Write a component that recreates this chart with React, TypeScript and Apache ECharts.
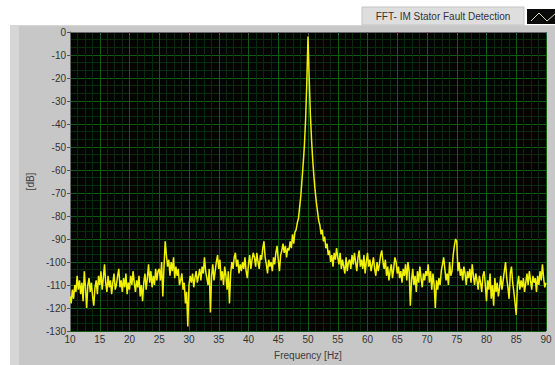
import React, { useEffect, useRef } from "react";
import * as echarts from "echarts";

const freqStart = 10;
const freqStep = 0.2;
// dB values, one per 0.2 Hz from 10 Hz to 90 Hz
const magnitudeDb: number[] = [
  -115, -118, -112, -116, -110,
  -113, -106, -112, -108, -114,
  -109, -117, -104, -111, -120,
  -110, -107, -113, -109, -115,
  -119, -111, -108, -114, -106,
  -110, -104, -112, -107, -101,
  -109, -113, -106, -111, -108,
  -114, -109, -105, -112, -110,
  -106, -103, -111, -108, -113,
  -107, -111, -105, -114, -109,
  -112, -106, -110, -104, -109,
  -113, -108, -111, -106, -115,
  -110, -117, -109, -105, -112,
  -107, -101, -109, -104, -111,
  -106, -110, -103, -108, -104,
  -103, -108, -100, -115, -102,
  -91, -97, -102, -99, -106,
  -100, -104, -98, -107, -102,
  -106, -103, -110, -108, -105,
  -112, -109, -118, -113, -128,
  -110, -106, -109, -105, -111,
  -107, -104, -109, -106, -103,
  -108, -102, -105, -98, -104,
  -107, -110, -103, -122, -106,
  -101, -108, -104, -100, -97,
  -103, -99, -108, -104, -110,
  -102, -106, -112, -104, -118,
  -105, -100, -103, -98, -96,
  -102, -99, -105, -101, -104,
  -100, -103, -98, -104, -107,
  -101, -97, -103, -99, -96,
  -98, -102, -96, -100, -103,
  -97, -99, -94, -91, -98,
  -101, -105, -99, -102, -100,
  -104, -98, -101, -96, -93,
  -99, -104, -97, -95, -92,
  -96, -93, -98, -94, -95,
  -91, -94, -88, -92, -87,
  -86, -83, -81, -76, -71,
  -64, -57, -49, -38, -22,
  -2, -20, -36, -47, -56,
  -63, -69, -74, -78, -82,
  -84, -88, -86, -91, -89,
  -94, -92, -97, -95, -100,
  -97, -102, -96, -99, -94,
  -98, -101, -96, -103, -99,
  -102, -105, -98, -104, -100,
  -99, -103, -97, -101, -96,
  -100, -104, -98, -95, -102,
  -99, -103, -97, -105, -100,
  -96, -102, -99, -104, -101,
  -98, -103, -106, -100, -104,
  -101, -97, -95, -100, -103,
  -99, -106, -102, -108, -104,
  -101, -107, -103, -98, -100,
  -105, -102, -107, -104, -109,
  -103, -106, -101, -108, -100,
  -104, -119, -108, -103, -110,
  -106, -113, -104, -109, -102,
  -107, -111, -105, -108, -104,
  -106, -101, -109, -104, -112,
  -105, -110, -120, -108, -112,
  -107, -110, -104, -101, -98,
  -103, -108, -105, -110, -100,
  -106, -104, -97, -93, -90,
  -91, -104, -100, -106, -103,
  -108, -102, -105, -110, -104,
  -107, -103, -109, -101, -106,
  -110, -105, -108, -112, -106,
  -109, -113, -106, -104, -110,
  -117, -108, -112, -105, -116,
  -110, -119, -107, -113, -109,
  -115, -111, -106, -112, -108,
  -104, -100, -107, -111, -116,
  -105, -102, -109, -113, -118,
  -123, -110, -106, -112, -108,
  -111, -107, -113, -109, -105,
  -110, -104, -108, -112, -106,
  -109, -107, -113, -106, -110,
  -104, -108, -101, -107, -111,
  -109,
];

const xMin = 10;
const xMax = 90;
const xInterval = 5;
const yMin = -130;
const yMax = 0;
const yInterval = 10;

const legendLabel = "FFT- IM Stator Fault Detection";
const xAxisTitle = "Frequency [Hz]";
const yAxisTitle = "[dB]";

export default function App() {
  const ref = useRef<HTMLDivElement>(null);

  useEffect(() => {
    document.body.style.margin = "0";
    if (!ref.current) return;
    const chart = echarts.init(ref.current, null, { renderer: "svg" });
    const points = magnitudeDb.map((v, i) => [
      +(freqStart + i * freqStep).toFixed(2),
      v,
    ]);
    const font = "Liberation Sans";
    chart.setOption({
      animation: false,
      backgroundColor: "transparent",
      grid: {
        left: 70,
        right: 9,
        top: 32,
        bottom: 30,
        show: true,
        backgroundColor: "#020402",
        borderWidth: 0,
      },
      xAxis: {
        type: "value",
        min: xMin,
        max: xMax,
        interval: xInterval,
        name: xAxisTitle,
        nameLocation: "middle",
        nameGap: 19,
        nameTextStyle: { color: "#3c3c3c", fontSize: 10, fontFamily: font },
        axisLine: { show: true, lineStyle: { color: "#6a6a6a", width: 1 } },
        axisTick: { show: true, length: 3, lineStyle: { color: "#555" } },
        axisLabel: {
          color: "#333",
          fontSize: 10,
          fontFamily: font,
          margin: 3,
        },
        splitLine: { show: true, lineStyle: { color: "#0f5a14", width: 1 } },
        minorTick: { show: false, splitNumber: 4 },
        minorSplitLine: {
          show: true,
          lineStyle: { color: "#072c09", width: 1 },
        },
      },
      yAxis: {
        type: "value",
        min: yMin,
        max: yMax,
        interval: yInterval,
        name: yAxisTitle,
        nameLocation: "middle",
        nameGap: 35,
        nameTextStyle: { color: "#3c3c3c", fontSize: 10, fontFamily: font },
        axisLine: { show: true, lineStyle: { color: "#6a6a6a", width: 1 } },
        axisTick: { show: true, length: 3, lineStyle: { color: "#555" } },
        axisLabel: {
          color: "#333",
          fontSize: 10,
          fontFamily: font,
          margin: 4,
        },
        splitLine: { show: true, lineStyle: { color: "#0f5a14", width: 1 } },
        minorTick: { show: false, splitNumber: 3 },
        minorSplitLine: {
          show: true,
          lineStyle: { color: "#072c09", width: 1 },
        },
      },
      series: [
        {
          type: "line",
          data: points,
          showSymbol: false,
          symbol: "none",
          lineStyle: { color: "#f2f200", width: 1.5 },
        },
      ],
      graphic: [
        {
          type: "rect",
          shape: { x: 362, y: 7, width: 162, height: 18 },
          style: { fill: "#dedede", stroke: "#c4c4c4", lineWidth: 1 },
        },
        {
          type: "text",
          x: 443,
          y: 16,
          style: {
            text: legendLabel,
            fill: "#333",
            fontSize: 10,
            fontFamily: font,
            align: "center",
            verticalAlign: "middle",
          },
        },
        {
          type: "rect",
          shape: { x: 527, y: 9, width: 28, height: 15 },
          style: { fill: "#0a0a0a" },
        },
        {
          type: "polyline",
          shape: {
            points: [
              [531, 21],
              [539, 13],
              [547, 21],
              [555, 14],
            ],
          },
          style: { stroke: "#d9d9b8", lineWidth: 1, fill: "none" },
        },
      ],
    });
    return () => chart.dispose();
  }, []);

  return (
    <div style={{ position: "relative", width: 555, height: 365, background: "#ffffff" }}>
      <div
        style={{
          position: "absolute",
          left: 10,
          top: 25,
          width: 545,
          height: 340,
          background: "#d6d6d6",
        }}
      />
      <div
        style={{
          position: "absolute",
          left: 19,
          top: 26,
          width: 536,
          height: 339,
          background: "#c7c7c7",
        }}
      />
      <div
        ref={ref}
        style={{ position: "absolute", left: 0, top: 0, width: 555, height: 365 }}
      />
    </div>
  );
}
